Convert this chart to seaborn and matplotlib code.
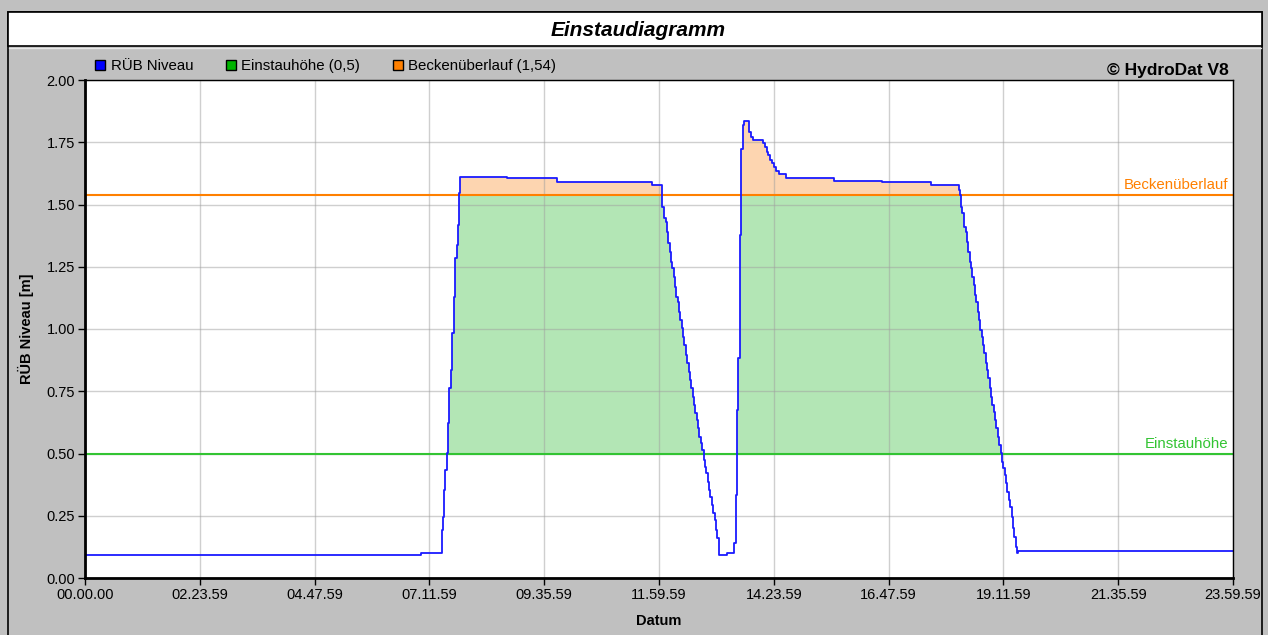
import numpy as np
import pandas as pd
import matplotlib
matplotlib.use("Agg")
import matplotlib.pyplot as plt
from matplotlib.patches import Rectangle
from matplotlib.lines import Line2D
import seaborn as sns

# Zeit in Stunden seit 00.00.00 und RÜB-Niveau in m
zeit_h = [0.0, 7.018,
          # Anstieg 1
          7.456, 7.477, 7.498, 7.519, 7.561, 7.582, 7.617, 7.652, 7.679, 7.714,
          7.742, 7.770, 7.791, 7.812, 7.826, 7.847,
          # Plateau 1
          8.822, 9.861, 11.848,
          # Abfall 1
          12.056, 12.112, 12.146, 12.174, 12.195, 12.223, 12.244, 12.279, 12.307,
          12.335, 12.362, 12.390, 12.418, 12.446, 12.474, 12.502, 12.530, 12.557,
          12.592, 12.620, 12.648, 12.676, 12.704, 12.732, 12.760, 12.788, 12.815,
          12.843, 12.871, 12.899, 12.934, 12.962, 12.990, 13.018, 13.045, 13.073,
          13.101, 13.136, 13.164, 13.192, 13.220, 13.248, 13.415,
          # Anstieg 2 mit Spitze
          13.575, 13.603, 13.631, 13.659, 13.694, 13.721, 13.749, 13.777, 13.882,
          13.917, 13.958, 14.181, 14.216, 14.251, 14.286, 14.321, 14.369, 14.411,
          14.439, 14.509, 14.648,
          # Plateau 2
          15.658, 16.656, 17.680, 18.278,
          # Abfall 2
          18.293, 18.314, 18.342, 18.383, 18.411, 18.439, 18.467, 18.495, 18.523,
          18.550, 18.578, 18.606, 18.634, 18.662, 18.690, 18.718, 18.746, 18.773,
          18.801, 18.829, 18.857, 18.885, 18.913, 18.941, 18.969, 18.997, 19.024,
          19.052, 19.080, 19.108, 19.143, 19.171, 19.199, 19.227, 19.254, 19.282,
          19.310, 19.345, 19.373, 19.401, 19.429, 19.457, 19.484, 19.512,
          24.0]
niveau = [0.093, 0.099,
          0.193, 0.246, 0.353, 0.434, 0.501, 0.621, 0.762, 0.835, 0.983, 1.130,
          1.284, 1.337, 1.418, 1.531, 1.545, 1.612,
          1.608, 1.589, 1.578,
          1.491, 1.444, 1.431, 1.391, 1.344, 1.311, 1.270, 1.244, 1.208,
          1.170, 1.130, 1.110, 1.070, 1.036, 1.003, 0.969, 0.936, 0.896,
          0.862, 0.829, 0.795, 0.762, 0.728, 0.695, 0.661, 0.635, 0.601,
          0.568, 0.541, 0.514, 0.474, 0.447, 0.420, 0.387, 0.353, 0.327,
          0.293, 0.260, 0.233, 0.193, 0.159, 0.092, 0.102,
          0.139, 0.333, 0.675, 0.882, 1.378, 1.722, 1.819, 1.835, 1.793,
          1.772, 1.759, 1.746, 1.730, 1.712, 1.699, 1.679, 1.665, 1.649,
          1.636, 1.622, 1.605,
          1.596, 1.590, 1.578, 1.558,
          1.538, 1.491, 1.464, 1.411, 1.391, 1.351, 1.311, 1.270, 1.244,
          1.210, 1.177, 1.137, 1.110, 1.070, 1.036, 0.996, 0.969, 0.936,
          0.902, 0.862, 0.835, 0.802, 0.762, 0.728, 0.695, 0.668, 0.635,
          0.601, 0.568, 0.534, 0.501, 0.467, 0.440, 0.414, 0.380, 0.347,
          0.313, 0.287, 0.246, 0.199, 0.166, 0.126, 0.099, 0.107,
          0.107]

einstauhoehe = 0.5
beckenueberlauf = 1.54

x_ticks_h = [0, 2.4, 4.8, 7.2, 9.6, 12.0, 14.4, 16.8, 19.2, 21.6, 24.0]
x_labels = ["00.00.00", "02.23.59", "04.47.59", "07.11.59", "09.35.59", "11.59.59",
            "14.23.59", "16.47.59", "19.11.59", "21.35.59", "23.59.59"]
y_ticks = [0.0, 0.25, 0.5, 0.75, 1.0, 1.25, 1.5, 1.75, 2.0]

df = pd.DataFrame({"zeit": zeit_h, "niveau": niveau})

sns.set_style("white")
plt.rcParams["font.family"] = ["Liberation Sans", "DejaVu Sans"]
plt.rcParams["text.color"] = "black"
plt.rcParams["axes.labelcolor"] = "black"

grau = "#c0c0c0"
fig = plt.figure(figsize=(12.68, 6.35), dpi=100, facecolor=grau)
W, H = 1268, 635

# Rahmen und Titelbox (hinter den Achsen)
fig.add_artist(Rectangle((8 / W, -0.01), (1262 - 8) / W, 1 - 12 / H + 0.01,
                         transform=fig.transFigure, facecolor=grau, edgecolor="black",
                         lw=1.2, zorder=-5))
fig.add_artist(Rectangle((8 / W, 1 - 46 / H), (1262 - 8) / W, 34 / H,
                         transform=fig.transFigure, facecolor="white", edgecolor="black",
                         lw=1.2, zorder=-4))
fig.add_artist(Line2D([9 / W, 1261 / W], [1 - 47.5 / H] * 2, transform=fig.transFigure,
                      color="#e8e8e8", lw=1, zorder=-3))
fig.text(638 / W, 1 - 31 / H, "Einstaudiagramm", ha="center", va="center",
         fontsize=15, style="italic", fontweight="bold")

ax = fig.add_axes([85 / W, 1 - 578 / H, (1233 - 85) / W, (578 - 80) / H])
ax.set_facecolor("white")

v = np.array(niveau)
ax.fill_between(zeit_h, einstauhoehe, np.clip(v, einstauhoehe, beckenueberlauf),
                step="post", color="#b3e6b5", lw=0, zorder=1)
ax.fill_between(zeit_h, beckenueberlauf, np.maximum(v, beckenueberlauf),
                step="post", color="#fdd5b0", lw=0, zorder=1)

ax.axhline(beckenueberlauf, color="#ff8000", lw=1.5, zorder=3)
ax.axhline(einstauhoehe, color="#33c433", lw=1.5, zorder=3)

sns.lineplot(data=df, x="zeit", y="niveau", ax=ax, color="#1a1aff", lw=1.3,
             drawstyle="steps-post", estimator=None, sort=False, zorder=4)

ax.text(23.9, beckenueberlauf + 0.01, "Beckenüberlauf", color="#ff8000", ha="right",
        va="bottom", fontsize=10.8, zorder=5)
ax.text(23.9, einstauhoehe + 0.01, "Einstauhöhe", color="#33c433", ha="right",
        va="bottom", fontsize=10.8, zorder=5)

ax.set_xlim(0, 24)
ax.set_ylim(0, 2)
ax.set_xticks(x_ticks_h)
ax.set_xticklabels(x_labels)
ax.set_yticks(y_ticks)
ax.set_yticklabels([f"{t:.2f}" for t in y_ticks])
ax.grid(True, color="#a0a0a0", alpha=0.5, lw=1)
ax.set_axisbelow(False)
ax.tick_params(axis="both", direction="out", length=5, width=1, labelsize=10.5,
               colors="black", pad=2, bottom=True, left=True)
for s in ["left", "bottom"]:
    ax.spines[s].set_linewidth(2)
for s in ["top", "right"]:
    ax.spines[s].set_linewidth(1)
for s in ax.spines.values():
    s.set_color("black")
    s.set_zorder(6)

ax.set_xlabel("Datum", fontsize=10.5, fontweight="bold", labelpad=9)
ax.set_ylabel("RÜB Niveau [m]", fontsize=10.5, fontweight="bold", labelpad=9)

handles = [
    Line2D([], [], marker="s", ls="", markersize=7, markerfacecolor="#0000ff", markeredgecolor="black"),
    Line2D([], [], marker="s", ls="", markersize=7, markerfacecolor="#00b400", markeredgecolor="black"),
    Line2D([], [], marker="s", ls="", markersize=7, markerfacecolor="#ff8000", markeredgecolor="black"),
]
fig.legend(handles, ["RÜB Niveau", "Einstauhöhe (0,5)", "Beckenüberlauf (1,54)"],
           loc="center left", bbox_to_anchor=(83 / W, 1 - 66 / H), ncol=3, frameon=False,
           fontsize=10.8, handletextpad=0.25, columnspacing=2.05, handlelength=0.9,
           borderpad=0.2)

fig.text(1229 / W, 1 - 70 / H, "© HydroDat V8", ha="right", va="center",
         fontsize=12.5, fontweight="bold")

fig.savefig("out.png", dpi=100, facecolor=grau)
